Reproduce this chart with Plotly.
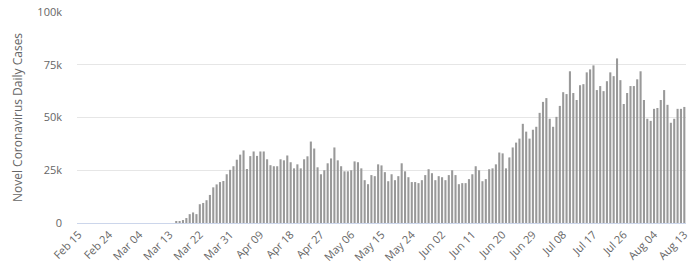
import pandas as pd
import plotly.graph_objects as go

# Daily new cases (Feb 15 - Aug 13, 2020)
feb_cases = [0] * 15  # Feb 15 - Feb 29
mar_cases = [0] * 14 + [500, 500, 1400, 2350, 4200, 5000, 4200, 8900, 9500, 10800,
                        13300, 16900, 18300, 19400, 19900, 23100, 25200]
apr_cases = [26900, 30000, 32400, 34400, 25600, 31700, 33900, 31800, 33900, 33900,
             30200, 27400, 26900, 26900, 30200, 29700, 32000, 28800, 25900, 27800,
             25900, 30200, 31600, 38600, 35300, 26400, 23100, 25000, 28300, 30600]
may_cases = [35800, 29700, 26900, 24500, 24500, 25000, 29200, 28800, 25900, 20300,
             18400, 22700, 22200, 27800, 27300, 24100, 19800, 23100, 20300, 22200,
             28300, 24500, 21700, 19400, 19400, 18900, 20300, 22700, 25500, 23600,
             20300]
jun_cases = [22200, 21700, 20300, 22700, 25000, 22700, 18400, 18900, 18900, 20800,
             23100, 26900, 25000, 19800, 20800, 25500, 25900, 27800, 33400, 33000,
             25900, 31100, 35800, 38100, 40000, 47000, 43300, 40000, 44200, 45600]
jul_cases = [52200, 57400, 59200, 49400, 45600, 50300, 55500, 62000, 61100, 71900,
             61600, 58300, 65300, 65800, 71400, 72800, 74700, 63000, 64900, 62500,
             67200, 71400, 69600, 78000, 67700, 56400, 61600, 64900, 64900, 68100,
             71900]
aug_cases = [58300, 49400, 48400, 54100, 54500, 58300, 63000, 56000, 47500, 49400,
             54100, 54100, 55000]

daily_cases = feb_cases + mar_cases + apr_cases + may_cases + jun_cases + jul_cases + aug_cases
dates = [d.strftime("%Y-%m-%d") for d in pd.date_range("2020-02-15", periods=len(daily_cases), freq="D")]

tick_labels = ["Feb 15", "Feb 24", "Mar 04", "Mar 13", "Mar 22", "Mar 31", "Apr 09",
               "Apr 18", "Apr 27", "May 06", "May 15", "May 24", "Jun 02", "Jun 11",
               "Jun 20", "Jun 29", "Jul 08", "Jul 17", "Jul 26", "Aug 04", "Aug 13"]
tick_dates = dates[::9]

y_tickvals = [0, 25000, 50000, 75000, 100000]
y_ticktext = ["0", "25k", "50k", "75k", "100k"]

fig = go.Figure(go.Bar(x=dates, y=daily_cases, marker=dict(color="#999999", line=dict(width=0))))

font_family = "Open Sans, DejaVu Sans, sans-serif"
fig.update_layout(
    width=694, height=273,
    margin=dict(l=77, r=4, t=10, b=50),
    paper_bgcolor="white", plot_bgcolor="white",
    bargap=0.38,
    showlegend=False,
    font=dict(family=font_family, color="#666666", size=11),
)
fig.update_xaxes(
    type="category",
    tickmode="array", tickvals=tick_dates, ticktext=tick_labels,
    tickangle=-45, showgrid=False,
    showline=True, linecolor="#ccd6eb", linewidth=1,
    ticks="", tickfont=dict(size=11, color="#666666"),
)
fig.update_yaxes(
    range=[0, 100000],
    tickmode="array", tickvals=y_tickvals, ticktext=y_ticktext,
    showgrid=True, gridcolor="#e6e6e6", gridwidth=1, zeroline=False,
    ticks="", ticklabelstandoff=14,
    tickfont=dict(size=11, color="#666666"),
    title=dict(text="Novel Coronavirus Daily Cases", standoff=12,
               font=dict(size=12, color="#666666")),
)

fig.write_html("out.html")
